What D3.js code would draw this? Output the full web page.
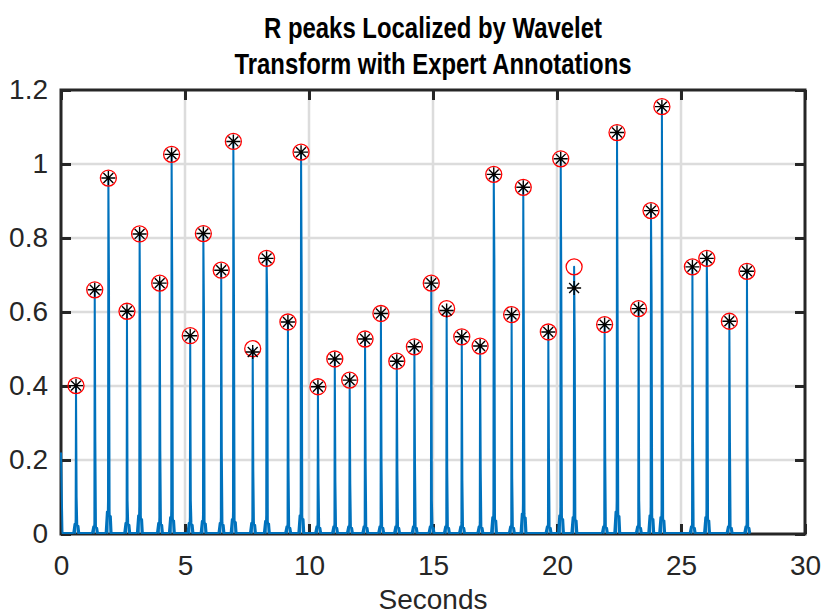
<!DOCTYPE html>
<html>
<head>
<meta charset="utf-8">
<script src="https://cdn.jsdelivr.net/npm/d3@7"></script>
<style>
  body { margin: 0; background: #fff; }
  svg { display: block; font-family: "Liberation Sans", Arial, sans-serif; }
</style>
</head>
<body>
<div id="chart"></div>
<script>
// data
const peakTimes  = [0.605, 1.36, 1.91, 2.66, 3.17, 3.98, 4.46, 5.21, 5.74, 6.46,
                    6.95, 7.73, 8.29, 9.15, 9.68, 10.36, 11.04, 11.64, 12.26, 12.90,
                    13.54, 14.25, 14.93, 15.55, 16.16, 16.90, 17.45, 18.17, 18.64, 19.65,
                    20.15, 20.69, 21.92, 22.42, 23.29, 23.79, 24.23, 25.46, 26.04, 26.95, 27.66];
// wavelet-localized R peaks (red circles, also the signal peaks)
const peakValues = [0.401, 0.660, 0.962, 0.602, 0.811, 0.678, 1.026, 0.536, 0.812, 0.713,
                    1.061, 0.501, 0.745, 0.573, 1.032, 0.398, 0.473, 0.416, 0.527, 0.596,
                    0.467, 0.506, 0.678, 0.609, 0.533, 0.508, 0.972, 0.593, 0.937, 0.546,
                    1.014, 0.722, 0.566, 1.085, 0.609, 0.874, 1.155, 0.722, 0.745, 0.575, 0.710];
// expert annotations (black stars)
const expertValues = [0.401, 0.660, 0.962, 0.602, 0.811, 0.678, 1.026, 0.536, 0.812, 0.713,
                      1.061, 0.492, 0.745, 0.573, 1.032, 0.398, 0.473, 0.416, 0.527, 0.596,
                      0.467, 0.506, 0.678, 0.604, 0.533, 0.508, 0.972, 0.593, 0.937, 0.546,
                      1.014, 0.665, 0.566, 1.085, 0.609, 0.874, 1.155, 0.722, 0.745, 0.575, 0.710];
// height of the sample right after each peak
const shoulderValues = [0.10, 0.25, 0.686, 0.09, 0.51, 0.225, 0.70, 0.09, 0.60, 0.22,
                        0.646, 0.17, 0.63, 0.18, 0.70, 0.135, 0.14, 0.135, 0.19, 0.195,
                        0.17, 0.19, 0.09, 0.175, 0.145, 0.175, 0.74, 0.15, 0.51, 0.23,
                        0.666, 0.53, 0.21, 0.606, 0.09, 0.65, 0.60, 0.25, 0.58, 0.245, 0.235];
// small ripples at the foot of each beat
const baseBumps = [0.027, 0.02, 0.06, 0.03, 0.05, 0.03, 0.045, 0.03, 0.035, 0.03,
                   0.04, 0.03, 0.035, 0.02, 0.05, 0.02, 0.02, 0.02, 0.02, 0.02,
                   0.02, 0.02, 0.02, 0.02, 0.02, 0.02, 0.045, 0.02, 0.055, 0.02,
                   0.05, 0.045, 0.02, 0.06, 0.02, 0.05, 0.045, 0.02, 0.045, 0.02, 0.02];
const startValue = 0.22;   // signal value at t = 0
const endTime    = 27.8;   // signal stops here
const baseline   = 0.003;

const xTicks = [0, 5, 10, 15, 20, 25, 30];
const yTicks = [0, 0.2, 0.4, 0.6, 0.8, 1, 1.2];
const titleLines = ["R peaks Localized by Wavelet", "Transform with Expert Annotations"];
const xLabel = "Seconds";

const margin = { top: 90, right: 17, bottom: 82, left: 61 },
      width  = 822 - margin.left - margin.right,
      height = 616 - margin.top  - margin.bottom;

const ink  = "#262626",
      blue = "#0072bd";

const svgRoot = d3.select("#chart")
  .append("svg")
    .attr("width", 822)
    .attr("height", 616);

const svg = svgRoot.append("g")
    .attr("transform", `translate(${margin.left},${margin.top})`);

const x = d3.scaleLinear().domain([0, 30]).range([0, width]);
const y = d3.scaleLinear().domain([0, 1.2]).range([height, 0]);

// grid
const grid = svg.append("g").attr("class", "grid");
grid.selectAll("line.gx")
  .data(xTicks.slice(1, -1))
  .enter().append("line")
    .attr("x1", d => x(d)).attr("x2", d => x(d))
    .attr("y1", 0).attr("y2", height);
grid.selectAll("line.gy")
  .data(yTicks.slice(1, -1))
  .enter().append("line")
    .attr("x1", 0).attr("x2", width)
    .attr("y1", d => y(d)).attr("y2", d => y(d));
grid.selectAll("line")
  .attr("stroke", "#dcdcdc")
  .attr("stroke-width", 2.5);

// axes (ticks pointing inward)
function styleAxis(g) {
  g.select(".domain").remove();
  g.selectAll(".tick line").attr("stroke", ink).attr("stroke-width", 3);
  g.selectAll(".tick text").attr("fill", ink).style("font-size", "28px");
}
svg.append("g")
  .attr("transform", `translate(0,${height})`)
  .call(d3.axisBottom(x).tickValues(xTicks).tickSize(-10).tickPadding(21).tickFormat(d3.format("d")))
  .call(styleAxis);
svg.append("g")
  .call(d3.axisTop(x).tickValues(xTicks).tickSize(-10).tickFormat(""))
  .call(styleAxis);
svg.append("g")
  .call(d3.axisLeft(y).tickValues(yTicks).tickSize(-10).tickPadding(13).tickFormat(d3.format("~g")))
  .call(styleAxis);
svg.append("g")
  .attr("transform", `translate(${width},0)`)
  .call(d3.axisRight(y).tickValues(yTicks).tickSize(-10).tickFormat(""))
  .call(styleAxis);

// box
svg.append("rect")
  .attr("width", width).attr("height", height)
  .attr("fill", "none")
  .attr("stroke", ink)
  .attr("stroke-width", 3);

// signal built from the beat arrays
const signal = [{ t: 0, v: startValue }, { t: 0.06, v: baseline }];
peakTimes.forEach((t, i) => {
  signal.push(
    { t: t - 0.11, v: baseline },
    { t: t - 0.06, v: baseBumps[i] },
    { t: t - 0.035, v: baseline },
    { t: t - 0.015, v: baseBumps[i] * 1.5 },
    { t: t,         v: peakValues[i] },
    { t: t + 0.025, v: shoulderValues[i] },
    { t: t + 0.05,  v: baseBumps[i] },
    { t: t + 0.08,  v: baseline },
    { t: t + 0.1,   v: baseBumps[i] * 0.8 },
    { t: t + 0.13,  v: baseline }
  );
});
signal.push({ t: endTime, v: baseline });

const line = d3.line()
  .x(d => x(d.t))
  .y(d => y(d.v));

svg.append("path")
  .datum(signal)
  .attr("fill", "none")
  .attr("stroke", blue)
  .attr("stroke-width", 2)
  .attr("stroke-linejoin", "round")
  .attr("d", line);

// red circles: localized peaks
svg.selectAll("circle.peak")
  .data(peakTimes)
  .enter().append("circle")
    .attr("class", "peak")
    .attr("cx", d => x(d))
    .attr("cy", (d, i) => y(peakValues[i]))
    .attr("r", 8)
    .attr("fill", "none")
    .attr("stroke", "#ff0000")
    .attr("stroke-width", 1.3);

// black asterisks: expert annotations
const starR = 7, diag = starR / Math.SQRT2;
const starPath = `M${-starR},0H${starR}M0,${-starR}V${starR}` +
                 `M${-diag},${-diag}L${diag},${diag}M${-diag},${diag}L${diag},${-diag}`;
svg.selectAll("path.expert")
  .data(peakTimes)
  .enter().append("path")
    .attr("class", "expert")
    .attr("transform", (d, i) => `translate(${x(d)},${y(expertValues[i])})`)
    .attr("d", starPath)
    .attr("fill", "none")
    .attr("stroke", "#000")
    .attr("stroke-width", 1.4);

// title
const title = svgRoot.append("text")
  .attr("text-anchor", "middle")
  .attr("fill", "#000")
  .style("font-size", "30px")
  .style("font-weight", "bold")
  .style("font-family", "'Liberation Sans Narrow', 'Liberation Sans', Arial, sans-serif");
const titleWidths = [338, 397];
titleLines.forEach((t, i) => {
  title.append("tspan")
    .attr("x", margin.left + width / 2)
    .attr("y", 38 + i * 36)
    .attr("textLength", titleWidths[i])
    .attr("lengthAdjust", "spacingAndGlyphs")
    .text(t);
});

// x axis label
svgRoot.append("text")
  .attr("x", margin.left + width / 2)
  .attr("y", 609)
  .attr("text-anchor", "middle")
  .attr("fill", ink)
  .style("font-size", "28px")
  .text(xLabel);
</script>
</body>
</html>
